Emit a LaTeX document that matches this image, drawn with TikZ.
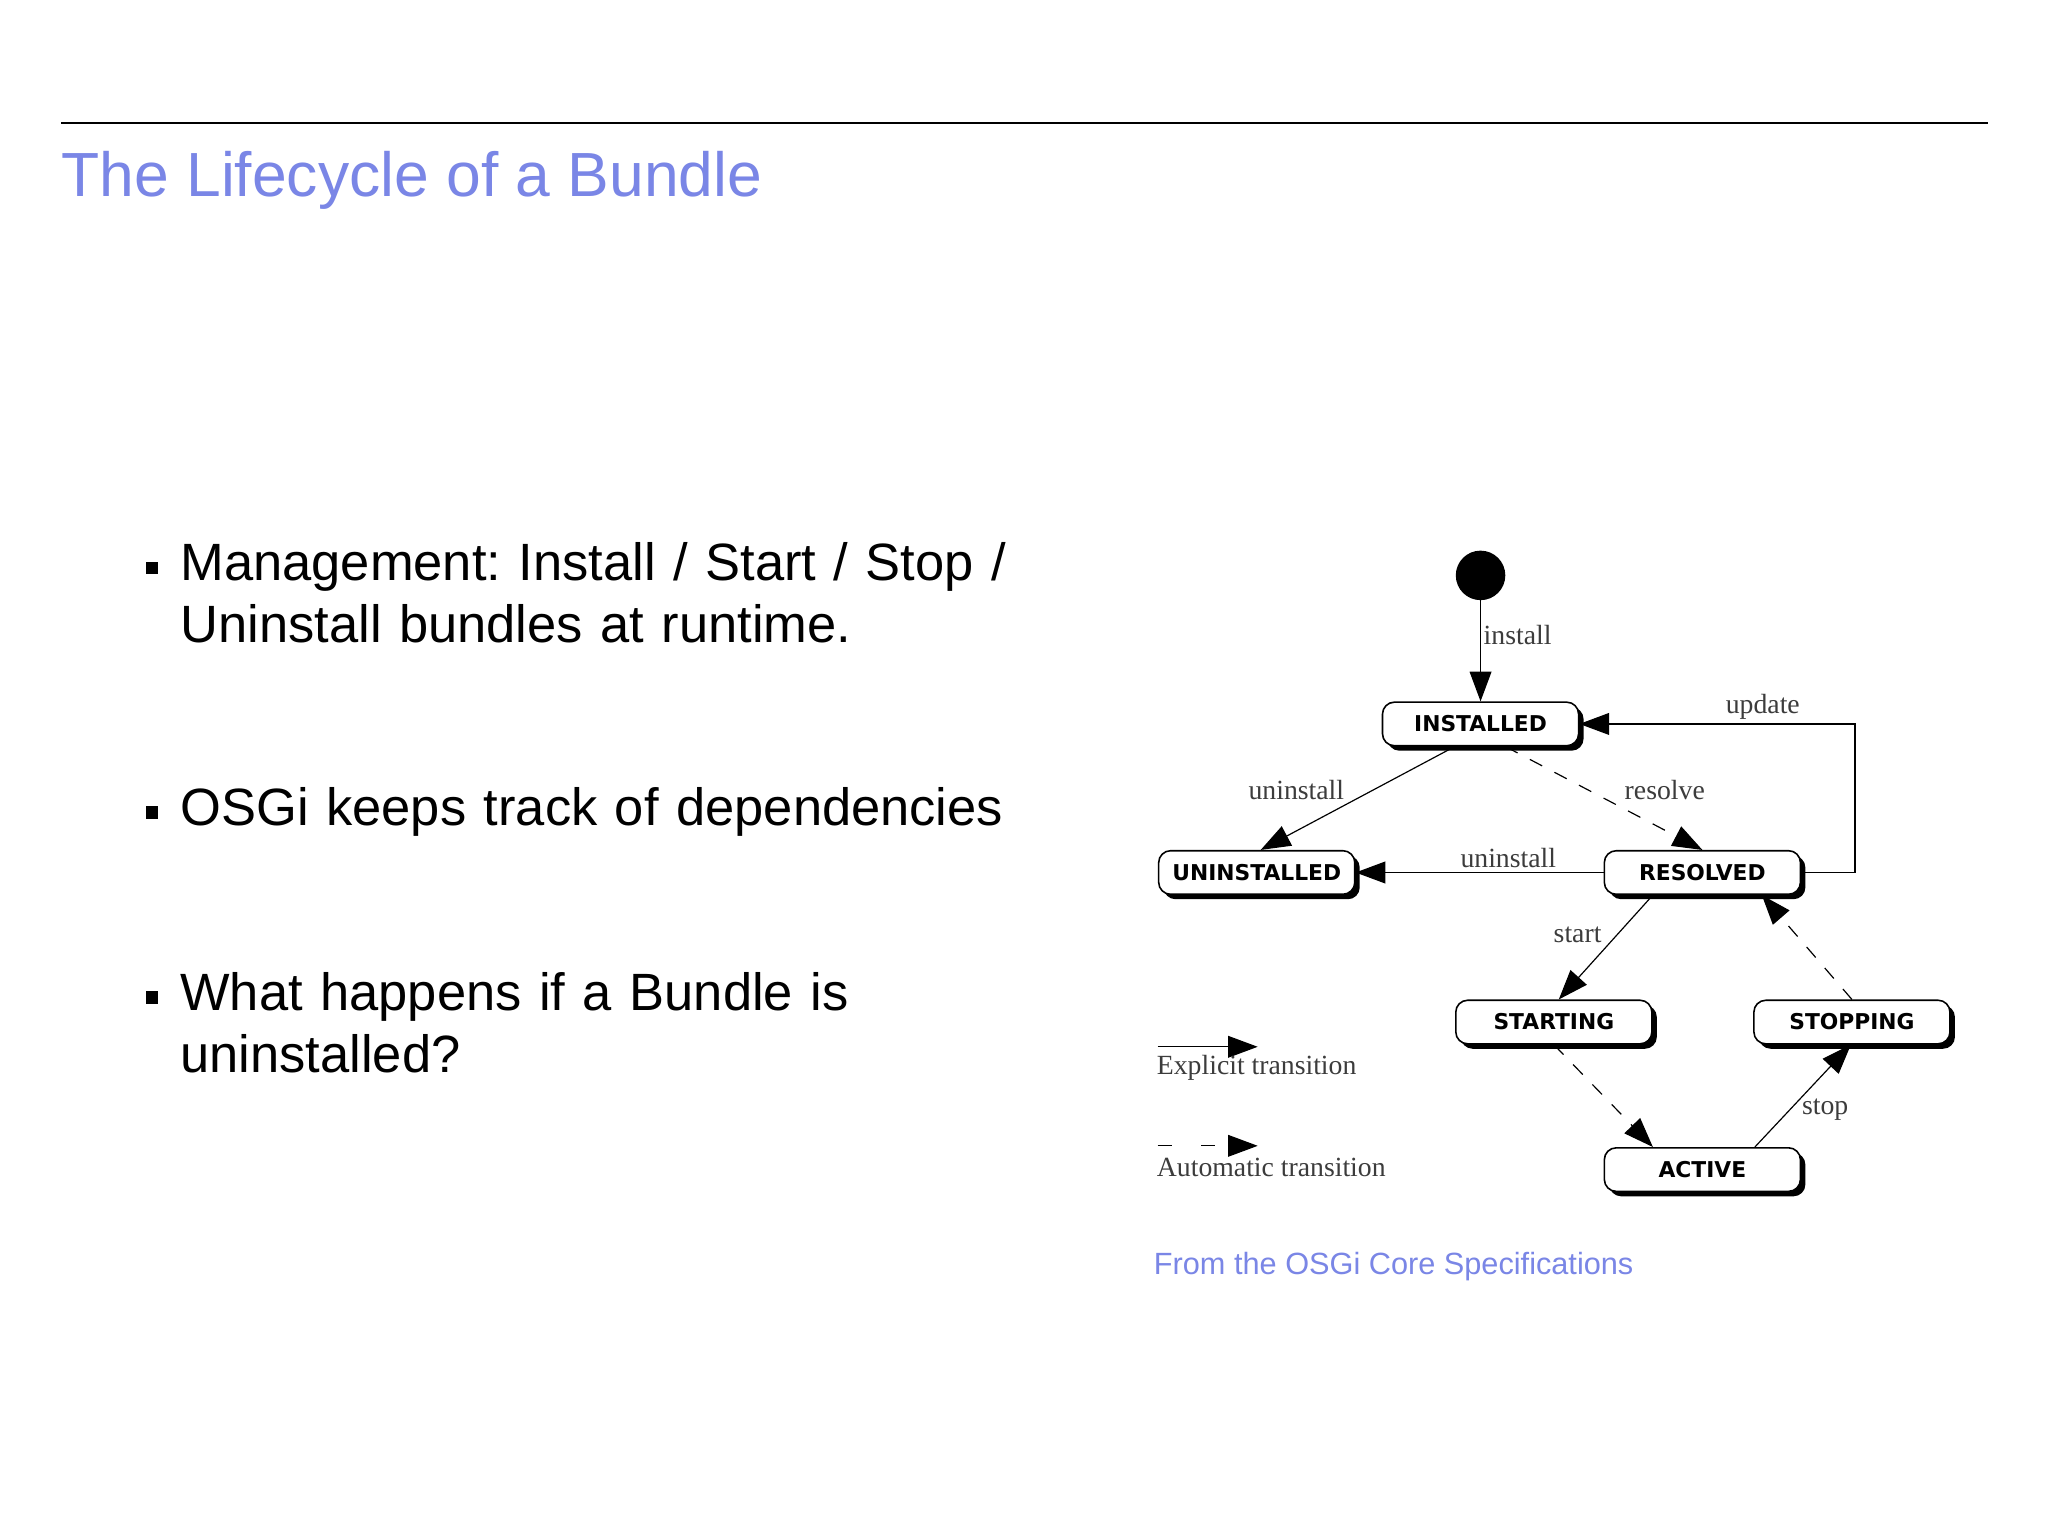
\documentclass[tikz,border=0pt]{standalone}
\usepackage{fontspec}
\setmainfont{Liberation Sans}
\newfontfamily\serifl{Liberation Serif}
\newfontfamily\statef{DejaVu Sans}
\usetikzlibrary{arrows.meta,shadows}
\definecolor{slideblue}{RGB}{122,134,230}
\definecolor{lblgray}{RGB}{60,60,60}
\frenchspacing
\begin{document}
\begin{tikzpicture}[x=1pt,y=-1pt,
  statebox/.style={draw,line width=1.6pt,fill=white,rounded corners=12pt,minimum width=198pt,minimum height=44pt,inner sep=0pt,
    font=\statef\bfseries\fontsize{22}{22}\selectfont,
    drop shadow={shadow xshift=5pt,shadow yshift=-5pt,opacity=1,fill=black}},
  tr/.style={line width=1.2pt,-{Triangle[length=30pt,width=22pt]}},
  autotr/.style={tr,dash pattern=on 14pt off 14pt},
  lbl/.style={font=\serifl\fontsize{28}{28}\selectfont,text=lblgray,inner sep=1pt},
  bul/.style={anchor=north west,align=left,font=\fontsize{53}{62}\selectfont,inner sep=0pt,text width=900pt}]
\useasboundingbox (0,0) rectangle (2068,1551);
\fill[white] (0,0) rectangle (2068,1551);
\coordinate (rl) at (62,124); \coordinate (rr) at (2007,124);
\draw[line width=1.6pt] (rl) -- (rr);
\node[anchor=base west,inner sep=0pt,text=slideblue,font=\fontsize{63}{63}\selectfont] (title) at (62,198) {The Lifecycle of a Bundle};
% bullets
\node[bul] (b1) at (182,548) {\hyphenpenalty=10000 Management: Install / Start / Stop /\\ Uninstall bundles at runtime.};
\node[bul] (b2) at (182,795) {OSGi keeps track of dependencies};
\node[bul] (b3) at (182,982) {What happens if a Bundle is\\ uninstalled?};
\foreach \y/\n in {574/s1,821/s2,1008/s3} \fill (147,\y-7) rectangle (160,\y+6);
% diagram
\node[circle,fill=black,minimum size=50pt,inner sep=0pt] (init) at (1495,581) {};
\node[statebox] (inst) at (1495,731) {INSTALLED};
\node[statebox] (unin) at (1269,881) {UNINSTALLED};
\node[statebox] (res) at (1719,881) {RESOLVED};
\node[statebox] (start) at (1569,1032) {STARTING};
\node[statebox] (stop) at (1870,1032) {STOPPING};
\node[statebox] (act) at (1719,1181) {ACTIVE};
\draw[tr] (init) -- (inst);
\draw[tr] ([xshift=-26pt]inst.south) -- ([xshift=4pt]unin.north);
\draw[autotr] ([xshift=25pt]inst.south) -- (res.north);
\draw[tr] (res.west) -- (unin.east);
\draw[tr] (res.east) -- (1873,881) -- (1873,731) -- (inst.east);
\draw[tr] ([xshift=-50pt]res.south) -- ([xshift=5pt]start.north);
\draw[autotr] ([xshift=0pt]start.south) -- ([xshift=-50pt]act.north);
\draw[tr] ([xshift=53pt]act.north) -- ([xshift=-1pt]stop.south);
\draw[autotr] (stop.north) -- ([xshift=60pt]res.south);
\node[lbl,anchor=west] (l1) at (1497,641) {install};
\node[lbl] (l2) at (1780,714) {update};
\node[lbl] (l3) at (1309,798) {uninstall};
\node[lbl] (l4) at (1681,798) {resolve};
\node[lbl] (l5) at (1523,866) {uninstall};
\node[lbl] (l6) at (1593,944) {start};
\node[lbl] (l7) at (1843,1120) {stop};
% legend
\coordinate (e1) at (1169,1057); \coordinate (e2) at (1270,1057);
\draw[tr] (e1) -- (e2);
\node[lbl,anchor=west,inner sep=0pt] (le) at (1168,1078) {Explicit transition};
\coordinate (a1) at (1169,1157); \coordinate (a2) at (1270,1157);
\draw[autotr,dash pattern=on 14pt off 30pt] (a1) -- (a2);
\node[lbl,anchor=west,inner sep=0pt] (la) at (1168,1179) {Automatic transition};
\node[anchor=west,inner sep=0pt,text=slideblue,font=\fontsize{31}{31}\selectfont] (cap) at (1165,1279) {From the OSGi Core Specifications};
\end{tikzpicture}
\end{document}
